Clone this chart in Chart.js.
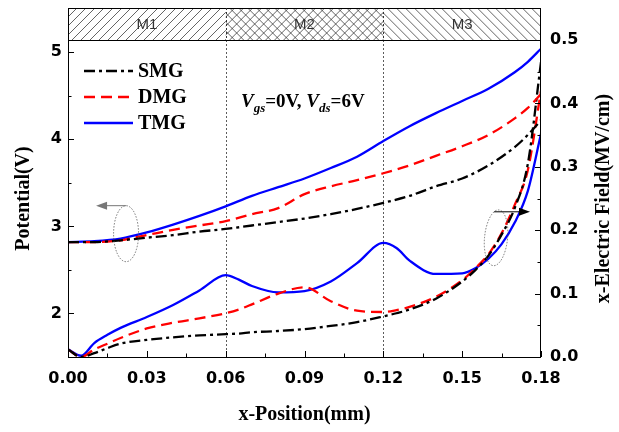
<!DOCTYPE html>
<html>
<head>
<meta charset="utf-8">
<script src="https://cdn.jsdelivr.net/npm/chart.js@4.4.1/dist/chart.umd.min.js"></script>
<style>
html, body { margin: 0; padding: 0; background: #fff; }
#wrap { width: 619px; height: 432px; }
</style>
</head>
<body>
<div id="wrap"><canvas id="chart" width="619" height="432"></canvas></div>
<script>
// potential (left axis)
const potX   = [0, 0.01, 0.02, 0.03, 0.04, 0.05, 0.06, 0.07, 0.08, 0.09, 0.10, 0.11, 0.12, 0.13, 0.14, 0.15, 0.16, 0.17, 0.175, 0.18];
const smgPot = [2.82, 2.82, 2.84, 2.87, 2.90, 2.94, 2.97, 3.01, 3.05, 3.09, 3.14, 3.20, 3.27, 3.35, 3.46, 3.55, 3.70, 3.91, 4.05, 4.22];
const dmgPot = [2.82, 2.82, 2.84, 2.90, 2.96, 3.01, 3.06, 3.14, 3.21, 3.37, 3.46, 3.53, 3.61, 3.70, 3.81, 3.92, 4.05, 4.24, 4.36, 4.52];
const tmgPot = [2.82, 2.83, 2.86, 2.93, 3.02, 3.12, 3.23, 3.35, 3.45, 3.55, 3.67, 3.80, 3.98, 4.15, 4.30, 4.44, 4.58, 4.77, 4.89, 5.04];

// electric field (right axis)
const fieldX   = [0, 0.005, 0.01, 0.015, 0.02, 0.03, 0.04, 0.05, 0.06, 0.065, 0.07, 0.08, 0.09, 0.10, 0.11, 0.12, 0.125, 0.13, 0.14, 0.15, 0.155, 0.16, 0.165, 0.17, 0.175, 0.18];
const smgField = [0.012, 0.0, 0.006, 0.014, 0.021, 0.027, 0.031, 0.034, 0.036, 0.037, 0.039, 0.041, 0.044, 0.049, 0.055, 0.064, 0.069, 0.075, 0.092, 0.119, 0.137, 0.160, 0.193, 0.235, 0.305, 0.465];
const dmgField = [0.012, 0.0, 0.012, 0.021, 0.030, 0.045, 0.054, 0.061, 0.069, 0.075, 0.083, 0.100, 0.110, 0.088, 0.073, 0.071, 0.074, 0.079, 0.095, 0.121, 0.140, 0.162, 0.195, 0.240, 0.295, 0.420];
const tmgField = [0.012, 0.002, 0.022, 0.035, 0.046, 0.063, 0.082, 0.105, 0.129, 0.122, 0.112, 0.102, 0.104, 0.119, 0.148, 0.180, 0.172, 0.152, 0.131, 0.132, 0.140, 0.155, 0.178, 0.212, 0.262, 0.352];

const xTicks = [0, 0.03, 0.06, 0.09, 0.12, 0.15, 0.18];
const potTicks = [2, 3, 4, 5];
const fieldTicks = [0, 0.1, 0.2, 0.3, 0.4, 0.5];
const regionNames = ['M1', 'M2', 'M3'];
const regionEdges = [0, 0.06, 0.12, 0.18];
const seriesNames = ['SMG', 'DMG', 'TMG'];

const SERIF = '"Liberation Serif", "Times New Roman", serif';
const SANS = '"DejaVu Sans", Arial, sans-serif';

const styles = [
    { color: '#000000', dash: [11, 4, 3, 4] },
    { color: '#ff0000', dash: [11, 6] },
    { color: '#0000ff', dash: [] },
];

function pairs(xs, ys) {
    return xs.map((x, i) => ({ x: x, y: ys[i] }));
}

function makeSet(label, xs, ys, st, axis) {
    return {
        label: label,
        data: pairs(xs, ys),
        yAxisID: axis,
        borderColor: st.color,
        borderDash: st.dash,
        borderWidth: 2.3,
        pointRadius: 0,
        fill: false,
        tension: 0.4,
        cubicInterpolationMode: 'monotone',
    };
}

const datasets = [
    makeSet('SMG', potX, smgPot, styles[0], 'y'),
    makeSet('DMG', potX, dmgPot, styles[1], 'y'),
    makeSet('TMG', potX, tmgPot, styles[2], 'y'),
    makeSet('SMG E', fieldX, smgField, styles[0], 'y2'),
    makeSet('DMG E', fieldX, dmgField, styles[1], 'y2'),
    makeSet('TMG E', fieldX, tmgField, styles[2], 'y2'),
];

function minorsOf(ticks) {
    const out = [];
    for (let i = 0; i < ticks.length - 1; i++) out.push((ticks[i] + ticks[i + 1]) / 2);
    return out;
}

function arrow(ctx, x0, y, x1, color) {
    const dir = Math.sign(x1 - x0);
    ctx.strokeStyle = color;
    ctx.fillStyle = color;
    ctx.lineWidth = 1;
    ctx.setLineDash([]);
    ctx.beginPath();
    ctx.moveTo(x0, y);
    ctx.lineTo(x1 - dir * 8, y);
    ctx.stroke();
    ctx.beginPath();
    ctx.moveTo(x1, y);
    ctx.lineTo(x1 - dir * 11, y - 4);
    ctx.lineTo(x1 - dir * 11, y + 4);
    ctx.closePath();
    ctx.fill();
}

const bandTop = 8;

const underlay = {
    id: 'underlay',
    beforeDatasetsDraw(chart) {
        const ctx = chart.ctx;
        const { top, bottom } = chart.chartArea;
        const sx = chart.scales.x;
        ctx.save();
        ctx.strokeStyle = '#333';
        ctx.lineWidth = 0.8;
        ctx.setLineDash([2, 2]);
        [regionEdges[1], regionEdges[2]].forEach(v => {
            const px = Math.round(sx.getPixelForValue(v)) + 0.5;
            ctx.beginPath();
            ctx.moveTo(px, top);
            ctx.lineTo(px, bottom);
            ctx.stroke();
        });
        ctx.restore();
    }
};

const overlay = {
    id: 'overlay',
    afterDraw(chart) {
        const ctx = chart.ctx;
        const { left, right, top, bottom } = chart.chartArea;
        const sx = chart.scales.x, sy = chart.scales.y, s2 = chart.scales.y2;
        ctx.save();

        // frame
        ctx.strokeStyle = '#000';
        ctx.lineWidth = 1;
        ctx.strokeRect(left + 0.5, top + 0.5, right - left - 1, bottom - top);

        // hatched band
        for (let i = 0; i < regionNames.length; i++) {
            const x0 = sx.getPixelForValue(regionEdges[i]);
            const x1 = sx.getPixelForValue(regionEdges[i + 1]);
            const h = top - bandTop;
            ctx.save();
            ctx.beginPath();
            ctx.rect(x0, bandTop, x1 - x0, h);
            ctx.clip();
            ctx.strokeStyle = '#222';
            ctx.lineWidth = 0.7;
            ctx.beginPath();
            for (let t = x0 - h; t < x1 + h; t += 9) {
                if (i === 0 || i === 1) { ctx.moveTo(t, top); ctx.lineTo(t + h, bandTop); }
                if (i === 2 || i === 1) { ctx.moveTo(t, bandTop); ctx.lineTo(t + h, top); }
            }
            ctx.stroke();
            ctx.restore();
            ctx.font = '15px "Liberation Sans", Arial, sans-serif';
            ctx.fillStyle = '#333';
            ctx.textAlign = 'center';
            ctx.textBaseline = 'middle';
            ctx.fillText(regionNames[i], (x0 + x1) / 2, (bandTop + top) / 2 + 1);
        }
        ctx.strokeStyle = '#000';
        ctx.lineWidth = 1;
        ctx.setLineDash([]);
        ctx.strokeRect(left + 0.5, bandTop + 0.5, right - left - 1, top - bandTop);
        ctx.save();
        ctx.setLineDash([2, 2]);
        ctx.strokeStyle = '#333';
        [regionEdges[1], regionEdges[2]].forEach(v => {
            const px = Math.round(sx.getPixelForValue(v)) + 0.5;
            ctx.beginPath();
            ctx.moveTo(px, bandTop);
            ctx.lineTo(px, top);
            ctx.stroke();
        });
        ctx.restore();

        // inward ticks
        ctx.strokeStyle = '#000';
        ctx.lineWidth = 1;
        ctx.beginPath();
        xTicks.forEach(v => { const p = Math.round(sx.getPixelForValue(v)) + 0.5; ctx.moveTo(p, bottom); ctx.lineTo(p, bottom - 6); });
        minorsOf(xTicks).forEach(v => { const p = Math.round(sx.getPixelForValue(v)) + 0.5; ctx.moveTo(p, bottom); ctx.lineTo(p, bottom - 3.5); });
        potTicks.forEach(v => { const p = Math.round(sy.getPixelForValue(v)) + 0.5; ctx.moveTo(left, p); ctx.lineTo(left + 6, p); });
        minorsOf(potTicks).forEach(v => { const p = Math.round(sy.getPixelForValue(v)) + 0.5; ctx.moveTo(left, p); ctx.lineTo(left + 3.5, p); });
        fieldTicks.forEach(v => { const p = Math.round(s2.getPixelForValue(v)) + 0.5; ctx.moveTo(right, p); ctx.lineTo(right - 6, p); });
        minorsOf(fieldTicks).forEach(v => { const p = Math.round(s2.getPixelForValue(v)) + 0.5; ctx.moveTo(right, p); ctx.lineTo(right - 3.5, p); });
        ctx.stroke();

        // ellipses with arrows
        const lx = sx.getPixelForValue(0.0221), ly = sy.getPixelForValue(2.916);
        const rx = sx.getPixelForValue(0.1629), ry = s2.getPixelForValue(0.188);
        ctx.strokeStyle = '#555';
        ctx.lineWidth = 0.8;
        ctx.setLineDash([1.5, 1.5]);
        ctx.beginPath();
        ctx.ellipse(lx, ly, 12.5, 28, 0, 0, Math.PI * 2);
        ctx.stroke();
        ctx.beginPath();
        ctx.ellipse(rx, ry, 11.5, 28, 0.1, 0, Math.PI * 2);
        ctx.stroke();
        arrow(ctx, lx, ly - 28, lx - 30, '#777');
        arrow(ctx, rx - 2, ry - 26, right - 11, '#000');

        // legend
        ctx.setLineDash([]);
        seriesNames.forEach((name, i) => {
            const y = 71 + i * 26;
            ctx.strokeStyle = styles[i].color;
            ctx.lineWidth = 2.3;
            ctx.setLineDash(styles[i].dash);
            ctx.beginPath();
            ctx.moveTo(84, y);
            ctx.lineTo(133, y);
            ctx.stroke();
            ctx.setLineDash([]);
            ctx.fillStyle = '#000';
            ctx.font = 'bold 20px ' + SERIF;
            ctx.textAlign = 'left';
            ctx.textBaseline = 'middle';
            ctx.fillText(name, 138, y + 1);
        });

        // bias condition text
        const parts = [
            ['italic bold 19px ', 'V', 0],
            ['italic bold 13px ', 'gs', 5],
            ['bold 19px ', '=0V, ', 0],
            ['italic bold 19px ', 'V', 0],
            ['italic bold 13px ', 'ds', 5],
            ['bold 19px ', '=6V', 0],
        ];
        let tx = 241;
        ctx.fillStyle = '#000';
        ctx.textBaseline = 'alphabetic';
        parts.forEach(p => {
            ctx.font = p[0] + SERIF;
            ctx.fillText(p[1], tx, 107 + p[2]);
            tx += ctx.measureText(p[1]).width;
        });

        // axis titles
        const cy = (top + bottom) / 2;
        ctx.font = 'bold 20px ' + SERIF;
        ctx.textAlign = 'center';
        ctx.textBaseline = 'middle';
        ctx.save();
        ctx.translate(24, cy);
        ctx.rotate(-Math.PI / 2);
        ctx.fillText('Potential(V)', 0, 0);
        ctx.restore();
        ctx.save();
        ctx.translate(604, cy);
        ctx.rotate(-Math.PI / 2);
        ctx.fillText('x-Electric Field(MV/cm)', 0, 0);
        ctx.restore();
        ctx.fillText('x-Position(mm)', (left + right) / 2, 415);

        ctx.restore();
    }
};

const tickFont = { family: SANS, size: 16, weight: 'bold' };

new Chart(document.getElementById('chart'), {
    type: 'line',
    data: { datasets: datasets },
    options: {
        responsive: false,
        animation: false,
        layout: { padding: { top: 40, left: 0, right: 0, bottom: 0 } },
        scales: {
            x: {
                type: 'linear',
                min: 0,
                max: 0.18,
                grid: { display: false, drawTicks: false },
                border: { display: false },
                afterBuildTicks: s => { s.ticks = xTicks.map(v => ({ value: v })); },
                afterFit: s => { s.height = 75; },
                ticks: { font: tickFont, color: '#000', padding: 12, maxRotation: 0, callback: v => v.toFixed(2) },
            },
            y: {
                position: 'left',
                min: 1.5,
                max: 5.14,
                grid: { display: false, drawTicks: false },
                border: { display: false },
                afterBuildTicks: s => { s.ticks = potTicks.map(v => ({ value: v })); },
                afterFit: s => { s.width = 68; },
                ticks: { font: tickFont, color: '#000', padding: 6, callback: v => String(v) },
            },
            y2: {
                position: 'right',
                min: 0,
                max: 0.5,
                grid: { display: false, drawTicks: false },
                border: { display: false },
                afterBuildTicks: s => { s.ticks = fieldTicks.map(v => ({ value: v })); },
                afterFit: s => { s.width = 78; },
                ticks: { font: tickFont, color: '#000', padding: 9, callback: v => v.toFixed(1) },
            },
        },
        plugins: {
            legend: { display: false },
            tooltip: { enabled: false },
        },
    },
    plugins: [underlay, overlay],
});
</script>
</body>
</html>
